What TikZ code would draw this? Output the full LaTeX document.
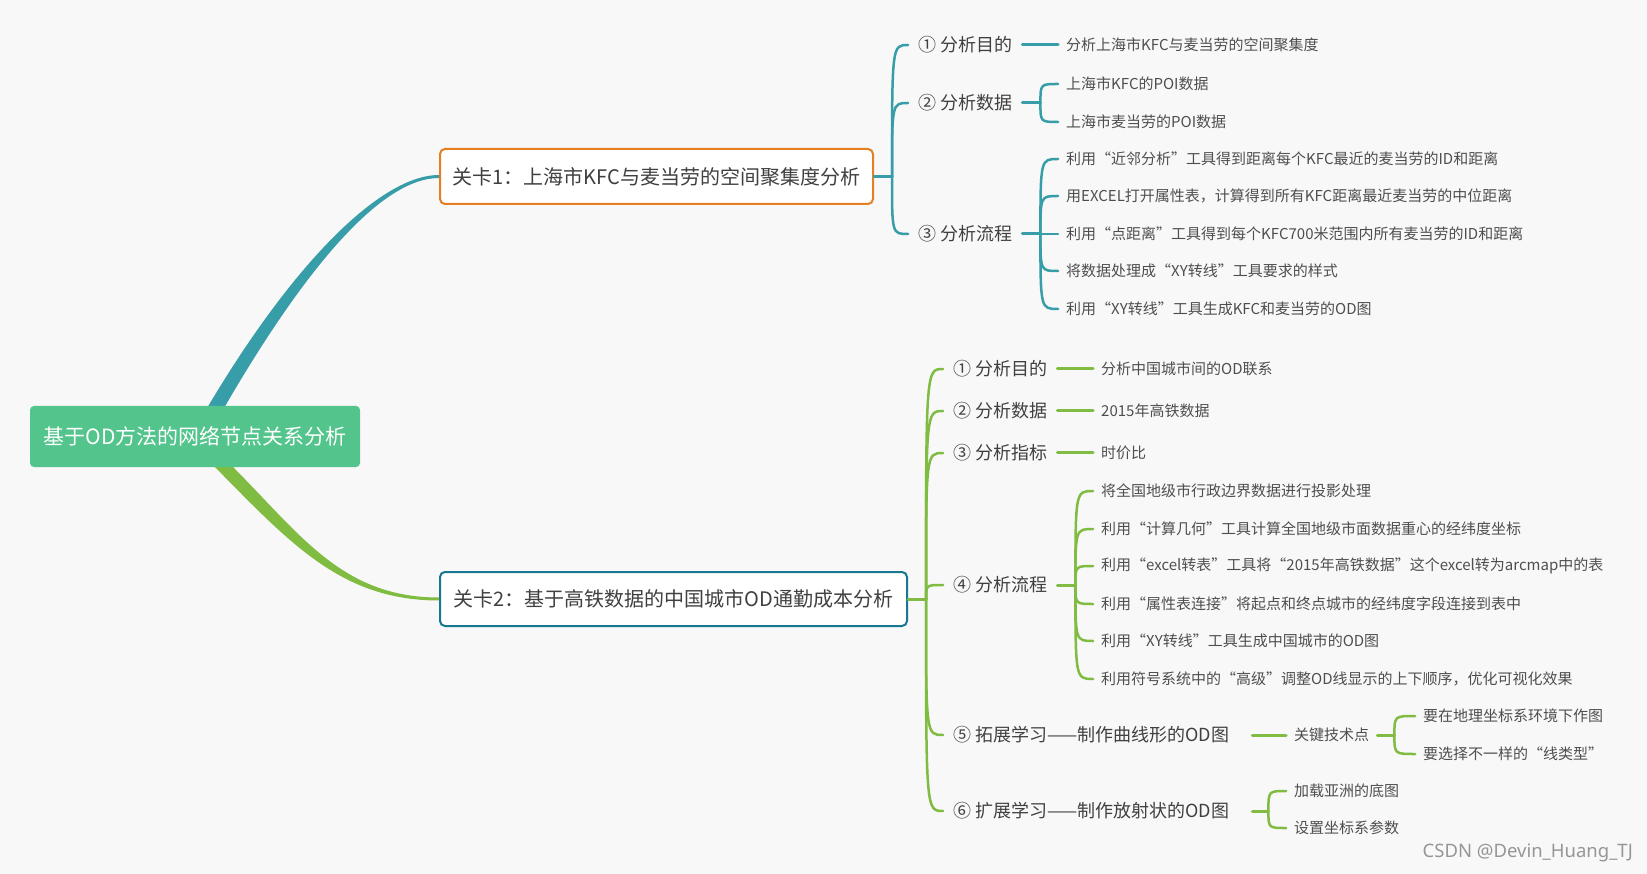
\documentclass[tikz,border=0pt]{standalone}
\usepackage{fontspec}
\setmainfont{Noto Sans CJK SC}
\newfontfamily\wmfont{Noto Sans}
\usetikzlibrary{calc}
\definecolor{bgc}{RGB}{248,248,248}
\definecolor{tealc}{RGB}{55,157,168}
\definecolor{grnc}{RGB}{128,188,66}
\definecolor{rootc}{RGB}{82,196,140}
\definecolor{orgc}{RGB}{230,126,34}
\definecolor{boxtwoc}{RGB}{24,120,146}
\definecolor{txtc}{RGB}{64,64,64}
\definecolor{txtlc}{RGB}{78,78,78}
\definecolor{wmc}{RGB}{150,150,150}
\tikzset{
  lone/.style={draw, line width=2pt, rounded corners=5pt, fill=white, text=txtc,
    font=\fontsize{20}{24}\selectfont, inner sep=0pt},
  ltwo/.style={anchor=west, inner xsep=10pt, inner ysep=0pt, text=txtc,
    font=\fontsize{18}{22}\selectfont},
  lthree/.style={anchor=west, inner xsep=8pt, inner ysep=0pt, text=txtlc,
    font=\fontsize{15}{18}\selectfont},
  tree/.style={to path={.. controls (\tikztostart |- \tikztotarget) .. (\tikztotarget)}},
  spine/.style={line width=2.5pt, line cap=round},
  leaf/.style={line width=3pt, line cap=round},
}
\begin{document}
\begin{tikzpicture}[x=1pt,y=-1pt]
\fill[bgc] (0,0) rectangle (1647,874);
\useasboundingbox (0,0) rectangle (1647,874);

% level 1 boxes
\node[lone, draw=orgc, minimum width=433pt, minimum height=55pt] (box1) at (656.5,176.5)
  {关卡1：上海市KFC与麦当劳的空间聚集度分析};
\node[lone, draw=boxtwoc, minimum width=467pt, minimum height=54pt] (box2) at (673.5,599)
  {关卡2：基于高铁数据的中国城市OD通勤成本分析};

% tapered main branches
\fill[tealc] (203,415) .. controls (290,266) and (380,175) .. ($(box1.west)+(0,-1.5)$)
  -- ($(box1.west)+(0,1.5)$) .. controls (380,178) and (302,272) .. (220,415) -- cycle;
\fill[grnc] (226,460) .. controls (299,532) and (340,597.5) .. ($(box2.west)+(0,-1.5)$)
  -- ($(box2.west)+(0,1.5)$) .. controls (340,600.5) and (289,542) .. (208,460) -- cycle;

% root
\node[fill=rootc, rounded corners=4pt, minimum width=330pt, minimum height=61pt, inner sep=0pt,
  text=white, font=\fontsize{21}{25}\selectfont] (root) at (195,436.5) {基于OD方法的网络节点关系分析};

% ---------------- branch 1 ----------------
\node[ltwo] (a1) at (908,45) {① 分析目的};
\node[ltwo] (a2) at (908,103) {② 分析数据};
\node[ltwo] (a3) at (908,234) {③ 分析流程};

\node[lthree] (c11) at (1058,45) {分析上海市KFC与麦当劳的空间聚集度};
\node[lthree] (c21) at (1058,84) {上海市KFC的POI数据};
\node[lthree] (c22) at (1058,122) {上海市麦当劳的POI数据};
\node[lthree] (c31) at (1058,159) {利用“近邻分析”工具得到距离每个KFC最近的麦当劳的ID和距离};
\node[lthree] (c32) at (1058,196) {用EXCEL打开属性表，计算得到所有KFC距离最近麦当劳的中位距离};
\node[lthree] (c33) at (1058,234) {利用“点距离”工具得到每个KFC700米范围内所有麦当劳的ID和距离};
\node[lthree] (c34) at (1058,271) {将数据处理成“XY转线”工具要求的样式};
\node[lthree] (c35) at (1058,309) {利用“XY转线”工具生成KFC和麦当劳的OD图};

\coordinate (J1) at ($(box1.east)+(18,0)$);
\coordinate (J12) at ($(a2.east)+(18,0)$);
\coordinate (J13) at ($(a3.east)+(18,0)$);

\begin{scope}[draw=tealc]
\draw[leaf] (box1.east) -- (J1);
\draw[spine] (J1) to[tree] (a1.west);
\draw[spine] (J1) to[tree] (a2.west);
\draw[spine] (J1) to[tree] (a3.west);
\draw[leaf] (a1.east) -- (c11.west);
\draw[leaf] (a2.east) -- (J12);
\draw[spine] (J12) to[tree] (c21.west);
\draw[spine] (J12) to[tree] (c22.west);
\draw[leaf] (a3.east) -- (J13);
\foreach \c in {c31,c32,c33,c34,c35}{\draw[spine] (J13) to[tree] (\c.west);}
\end{scope}

% ---------------- branch 2 ----------------
\node[ltwo] (b1) at (943,369) {① 分析目的};
\node[ltwo] (b2) at (943,411) {② 分析数据};
\node[ltwo] (b3) at (943,453) {③ 分析指标};
\node[ltwo] (b4) at (943,585) {④ 分析流程};
\node[ltwo] (b5) at (943,735) {\makebox[289pt][l]{⑤ 拓展学习——制作曲线形的OD图}};
\node[ltwo] (b6) at (943,811) {\makebox[289pt][l]{⑥ 扩展学习——制作放射状的OD图}};

\node[lthree] (d11) at (1093,369) {分析中国城市间的OD联系};
\node[lthree] (d21) at (1093,411) {2015年高铁数据};
\node[lthree] (d31) at (1093,453) {时价比};
\node[lthree] (d41) at (1093,491) {将全国地级市行政边界数据进行投影处理};
\node[lthree] (d42) at (1093,529) {利用“计算几何”工具计算全国地级市面数据重心的经纬度坐标};
\node[lthree] (d43) at (1093,566) {利用“excel转表”工具将“2015年高铁数据”这个excel转为arcmap中的表};
\node[lthree] (d44) at (1093,604) {利用“属性表连接”将起点和终点城市的经纬度字段连接到表中};
\node[lthree] (d45) at (1093,641) {利用“XY转线”工具生成中国城市的OD图};
\node[lthree] (d46) at (1093,679) {利用符号系统中的“高级”调整OD线显示的上下顺序，优化可视化效果};
\node[lthree] (d51) at (1286,735) {关键技术点};
\node[lthree] (e1) at (1415,716) {要在地理坐标系环境下作图};
\node[lthree] (e2) at (1415,754) {要选择不一样的“线类型”};
\node[lthree] (d61) at (1286,791) {加载亚洲的底图};
\node[lthree] (d62) at (1286,828) {设置坐标系参数};

\coordinate (J2) at ($(box2.east)+(18,0)$);
\coordinate (J24) at ($(b4.east)+(18,0)$);
\coordinate (J25) at ($(d51.east)+(17,0)$);
\coordinate (J26) at ($(b6.east)+(16,0)$);

\begin{scope}[draw=grnc]
\draw[leaf] (box2.east) -- (J2);
\foreach \b in {b1,b2,b3,b4,b5,b6}{\draw[spine] (J2) to[tree] (\b.west);}
\draw[leaf] (b1.east) -- (d11.west);
\draw[leaf] (b2.east) -- (d21.west);
\draw[leaf] (b3.east) -- (d31.west);
\draw[leaf] (b4.east) -- (J24);
\foreach \d in {d41,d42,d43,d44,d45,d46}{\draw[spine] (J24) to[tree] (\d.west);}
\draw[leaf] (b5.east) -- (d51.west);
\draw[leaf] (d51.east) -- (J25);
\draw[spine] (J25) to[tree] (e1.west);
\draw[spine] (J25) to[tree] (e2.west);
\draw[leaf] (b6.east) -- (J26);
\draw[spine] (J26) to[tree] (d61.west);
\draw[spine] (J26) to[tree] (d62.west);
\end{scope}

% watermark
\node[anchor=east, inner sep=0pt, text=wmc, font=\wmfont\fontsize{18.5}{22}\selectfont] (wm) at (1633,853)
  {CSDN @Devin\_Huang\_TJ};
\end{tikzpicture}
\end{document}
